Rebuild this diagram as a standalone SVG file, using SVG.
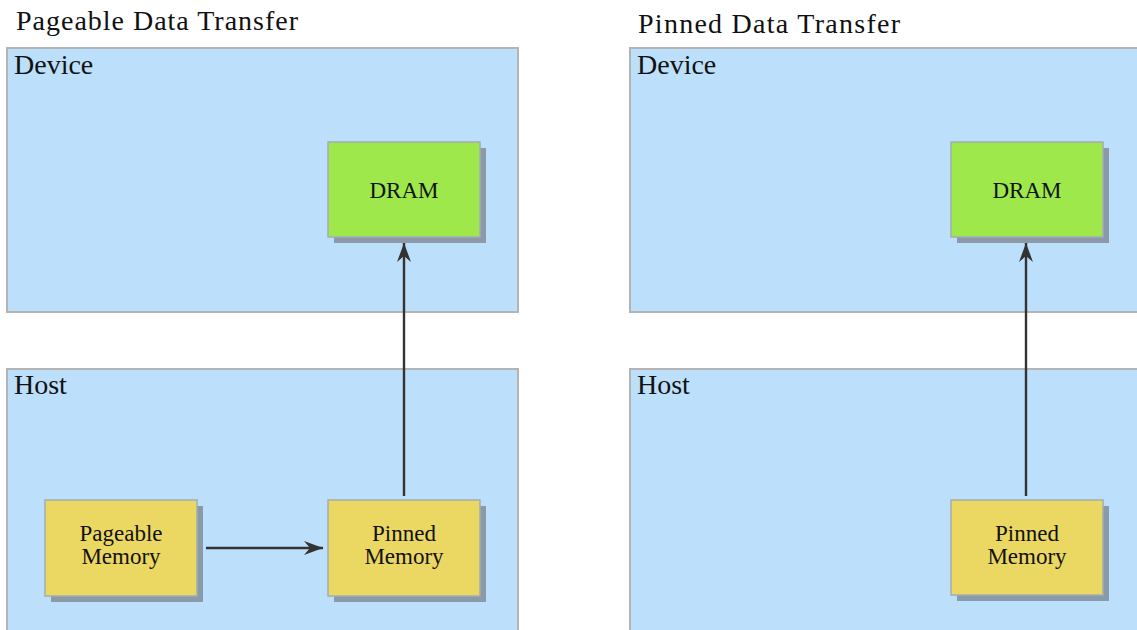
<svg xmlns="http://www.w3.org/2000/svg" width="1137" height="630" viewBox="0 0 1137 630">
<style>
.t{font-family:"Liberation Serif","Times New Roman",serif;fill:#111}
.title{font-size:28px}
.lbl{font-size:28px}
.nt{font-size:23px;text-anchor:middle}
.area{fill:#bcdffb;stroke:#b4b4b4;stroke-width:2}
.sh{fill:#8a9aa9}
.dram{fill:#9fe84c;stroke:#a4acb4;stroke-width:1.5}
.mem{fill:#ebd862;stroke:#a4acb4;stroke-width:1.5}
.conn{stroke:#333;stroke-width:2.4;fill:none;marker-end:url(#ah)}
</style>
<defs>
<marker id="ah" markerUnits="userSpaceOnUse" markerWidth="20" markerHeight="14" viewBox="0 0 20 14" refX="19" refY="7" orient="auto">
<path d="M0,0 L19,7 L0,14 L6,7 z" fill="#333"/>
</marker>
</defs>
<rect width="1137" height="630" fill="#fff"/>

<g id="left-panel">
<text class="t title" x="16" y="30" textLength="282">Pageable Data Transfer</text>
<g id="device-left">
<rect class="area" x="7" y="48" width="511" height="264"/>
<text class="t lbl" x="14" y="74">Device</text>
</g>
<g id="host-left">
<rect class="area" x="7" y="369" width="511" height="275"/>
<text class="t lbl" x="14" y="394">Host</text>
</g>
<g id="dram-left">
<rect class="sh" x="334" y="148" width="152" height="95"/>
<rect class="dram" x="328" y="142" width="152" height="95"/>
<text class="t nt" x="404" y="198">DRAM</text>
</g>
<g id="pageable-left">
<rect class="sh" x="51" y="506" width="152" height="96"/>
<rect class="mem" x="45" y="500" width="152" height="96"/>
<text class="t nt" x="121" y="541">Pageable</text>
<text class="t nt" x="121" y="564">Memory</text>
</g>
<g id="pinned-left">
<rect class="sh" x="334" y="506" width="152" height="96"/>
<rect class="mem" x="328" y="500" width="152" height="96"/>
<text class="t nt" x="404" y="541">Pinned</text>
<text class="t nt" x="404" y="564">Memory</text>
</g>
</g>

<g id="right-panel">
<text class="t title" x="638" y="33" textLength="262">Pinned Data Transfer</text>
<g id="device-right">
<rect class="area" x="630" y="48" width="512" height="264"/>
<text class="t lbl" x="637" y="74">Device</text>
</g>
<g id="host-right">
<rect class="area" x="630" y="369" width="512" height="275"/>
<text class="t lbl" x="637" y="394">Host</text>
</g>
<g id="dram-right">
<rect class="sh" x="957" y="148" width="152" height="95"/>
<rect class="dram" x="951" y="142" width="152" height="95"/>
<text class="t nt" x="1027" y="198">DRAM</text>
</g>
<g id="pinned-right">
<rect class="sh" x="957" y="506" width="152" height="95"/>
<rect class="mem" x="951" y="500" width="152" height="95"/>
<text class="t nt" x="1027" y="541">Pinned</text>
<text class="t nt" x="1027" y="564">Memory</text>
</g>
</g>

<g id="connectors">
<line class="conn" x1="404" y1="496" x2="404" y2="243"/>
<line class="conn" x1="206" y1="548" x2="323" y2="548"/>
<line class="conn" x1="1026" y1="496" x2="1026" y2="243"/>
</g>
</svg>
